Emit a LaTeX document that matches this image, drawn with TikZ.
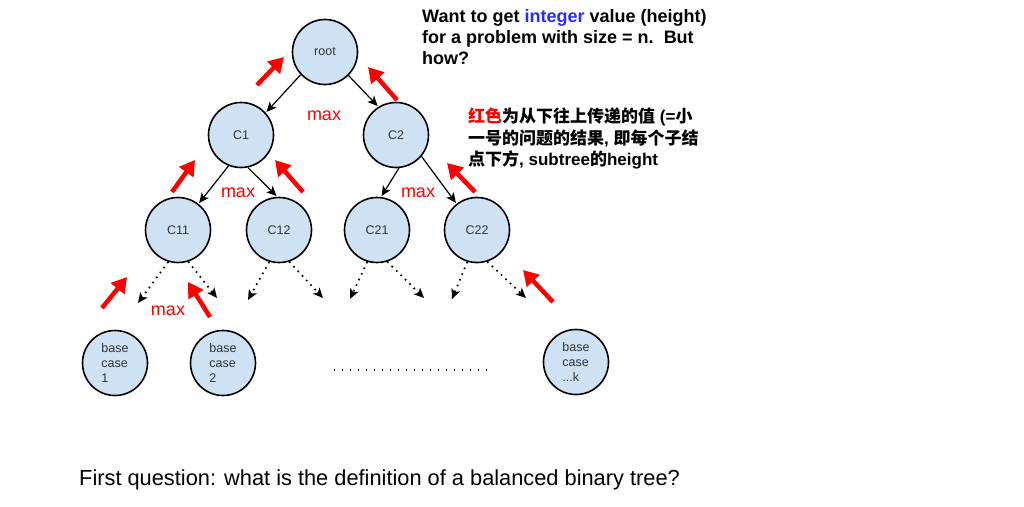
\documentclass[tikz,border=0pt]{standalone}
\usepackage{fontspec}
\setmainfont{Liberation Sans}
\newfontfamily\cjk{Noto Sans CJK SC}
\usetikzlibrary{arrows.meta}
\definecolor{nodefill}{HTML}{CFE2F3}
\definecolor{txtgray}{HTML}{333333}
\definecolor{redarr}{HTML}{FF0000}
\definecolor{intblue}{HTML}{2B2BFF}
\newcommand{\zh}[1]{{\cjk\fontsize{17}{21.5}\selectfont #1}}
\begin{document}
\begin{tikzpicture}[x=1pt,y=-1pt,
  tnode/.style={circle,draw=black,line width=1.6pt,fill=nodefill,minimum size=65pt,inner sep=0pt,font=\fontsize{12.5}{14}\selectfont,text=txtgray},
  bnode/.style={tnode,align=left,font=\fontsize{12.5}{15}\selectfont},
  edge/.style={-{Stealth[length=10pt,width=9pt,inset=2.5pt]},line width=1.2pt,shorten >=1pt},
  dotedge/.style={-{Stealth[length=10pt,width=9pt,inset=2.5pt]},line width=1.7pt,dash pattern=on 1.6pt off 4.6pt},
  dotline/.style={line width=1.5pt,dash pattern=on 1.4pt off 6.6pt},
  uparr/.style={-{Triangle[length=15pt,width=17pt]},line width=4.5pt,draw=redarr},
  maxlbl/.style={text=redarr,font=\fontsize{18}{20}\selectfont,inner sep=0pt},
  note/.style={align=left,inner sep=0pt,anchor=north west}
]
\useasboundingbox (0,0) rectangle (1024,506);

% tree nodes
\node[tnode] (root) at (325,52) {root};
\node[tnode] (c1) at (241,135) {C1};
\node[tnode] (c2) at (396,135) {C2};
\node[tnode] (c11) at (178,230) {C11};
\node[tnode] (c12) at (279,230) {C12};
\node[tnode] (c21) at (377,230) {C21};
\node[tnode] (c22) at (477,230) {C22};
\node[bnode] (b1) at (115,363) {base\\case\\1};
\node[bnode] (b2) at (223,363) {base\\case\\2};
\node[bnode] (bk) at (576,362) {base\\case\\...k};

% solid edges
\draw[edge] (root.223) -- (c1.42);
\draw[edge] (root.315) -- (c2.122);
\draw[edge] (c1.248) -- (c11.52);
\draw[edge] (c1.282) -- (c12.93);
\draw[edge] (c2.275) -- (c21.83);
\draw[edge] (c2.320) -- (c22.128);

% dotted edges to free ends
\coordinate (e11a) at (138,303);
\coordinate (e11b) at (217,298);
\coordinate (e12a) at (248,300);
\coordinate (e12b) at (323,298);
\coordinate (e21a) at (350,299);
\coordinate (e21b) at (424,298);
\coordinate (e22a) at (452,299);
\coordinate (e22b) at (526,298);
\draw[dotedge] (c11.253) -- (e11a);
\draw[dotedge] (c11.288) -- (e11b);
\draw[dotedge] (c12.253) -- (e12a);
\draw[dotedge] (c12.288) -- (e12b);
\draw[dotedge] (c21.253) -- (e21a);
\draw[dotedge] (c21.288) -- (e21b);
\draw[dotedge] (c22.253) -- (e22a);
\draw[dotedge] (c22.288) -- (e22b);

% dotted line between base cases
\coordinate (dl1) at (334,370);
\coordinate (dl2) at (492,370);
\draw[dotline] (dl1) -- (dl2);

% red upward arrows
\draw[uparr] (257,85) -- (284,57);
\draw[uparr] (397,100) -- (368,67);
\draw[uparr] (172,192) -- (195,160);
\draw[uparr] (303,192) -- (275,160);
\draw[uparr] (475,192) -- (447,163);
\draw[uparr] (102,308) -- (127,277);
\draw[uparr] (210,317) -- (188,282);
\draw[uparr] (553,302) -- (523,270);

% max labels
\node[maxlbl] (m0) at (324,116) {max};
\node[maxlbl] (m1) at (238,193) {max};
\node[maxlbl] (m2) at (418,193) {max};
\node[maxlbl] (m3) at (168,311) {max};

% notes
\node[note,font=\bfseries\fontsize{18}{21}\selectfont] (t1) at (422,9)
  {Want to get \textcolor{intblue}{integer} value (height)\\for a problem with size = n.\ \ But\\how?};
\node[note,font=\bfseries\fontsize{17}{21.5}\selectfont] (t2) at (468,108)
  {\zh{\textcolor{redarr}{红色}为从下往上传递的值} (=\zh{小}\\
   \zh{一号的问题的结果}, \zh{即每个子结}\\
   \zh{点下方}, subtree\zh{的}height};
\node[anchor=base west,inner sep=0pt,font=\fontsize{21.8}{26}\selectfont] (q) at (79,485)
  {First question: what is the definition of a balanced binary tree?};
\end{tikzpicture}
\end{document}
